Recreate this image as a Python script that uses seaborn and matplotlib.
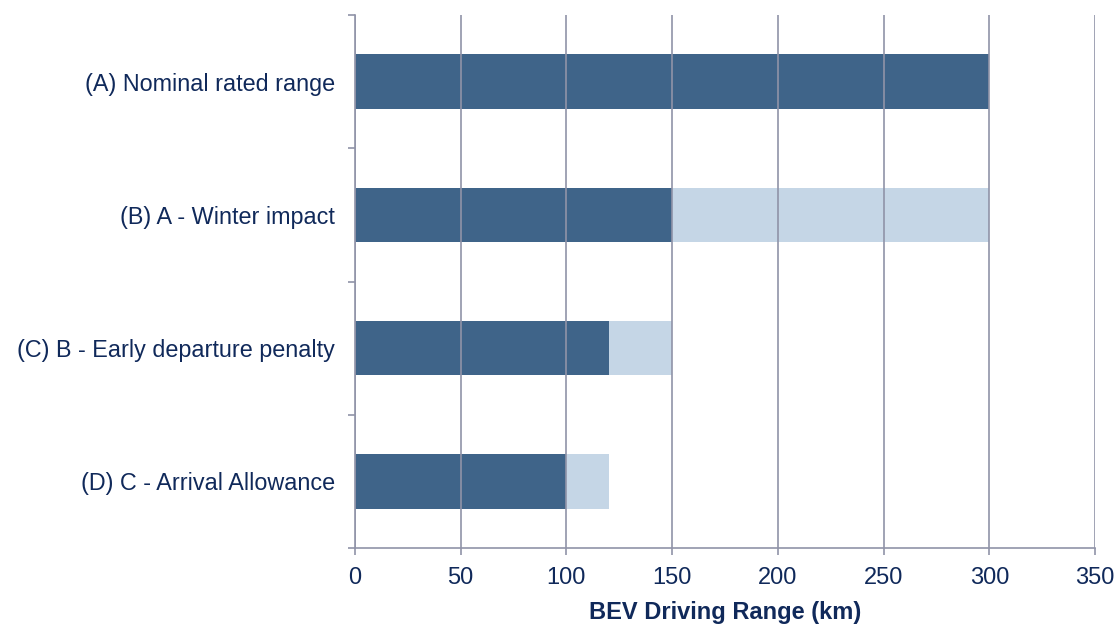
import matplotlib
matplotlib.use("Agg")
import matplotlib.pyplot as plt
import seaborn as sns
import pandas as pd
from matplotlib.ticker import FixedLocator

categories = ["(A) Nominal rated range", "(B) A - Winter impact",
              "(C) B - Early departure penalty", "(D) C - Arrival Allowance"]
remaining = [300, 150, 120, 100]
previous = [300, 300, 150, 120]
xticks = [0, 50, 100, 150, 200, 250, 300, 350]

dark = "#3F6489"
light = "#C5D6E6"
grid_c = "#9093A8"
text_c = "#10295A"

sns.set_theme(style="white")
plt.rcParams['font.family'] = ['Liberation Sans', 'DejaVu Sans']

df = pd.DataFrame({"cat": categories, "remaining": remaining, "previous": previous})

fig = plt.figure(figsize=(11.19, 6.24), dpi=100)
ax = fig.add_axes([355/1119, 1 - 548/624, (1095-355)/1119, (548-15)/624])

sns.barplot(data=df, y="cat", x="previous", color=light, width=0.41, ax=ax,
            saturation=1, orient="h", linewidth=0)
sns.barplot(data=df, y="cat", x="remaining", color=dark, width=0.41, ax=ax,
            saturation=1, orient="h", linewidth=0)

ax.set_xlim(0, 350)
ax.set_ylim(3.5, -0.5)
ax.set_xticks(xticks)
ax.set_xticklabels([str(v) for v in xticks], fontsize=17, color=text_c)
ax.xaxis.grid(True, color=grid_c, linewidth=1.2)
ax.yaxis.grid(False)
ax.set_axisbelow(False)

ax.yaxis.set_minor_locator(FixedLocator([-0.5, 0.5, 1.5, 2.5, 3.5]))
ax.tick_params(axis="y", which="major", length=0, pad=14.5, labelsize=16.8, labelcolor=text_c)
ax.tick_params(axis="y", which="minor", length=5, width=1.2, color=grid_c, left=True)
ax.tick_params(axis="x", which="major", length=5, width=1.2, color=grid_c, bottom=True,
               pad=9, labelsize=17, labelcolor=text_c)

for s in ["top", "right"]:
    ax.spines[s].set_visible(False)
for s in ["left", "bottom"]:
    ax.spines[s].set_color(grid_c)
    ax.spines[s].set_linewidth(1.2)

ax.set_ylabel("")
ax.set_xlabel("BEV Driving Range (km)", fontsize=17, fontweight="bold", color=text_c, labelpad=8)

fig.savefig("out.png", dpi=100)
